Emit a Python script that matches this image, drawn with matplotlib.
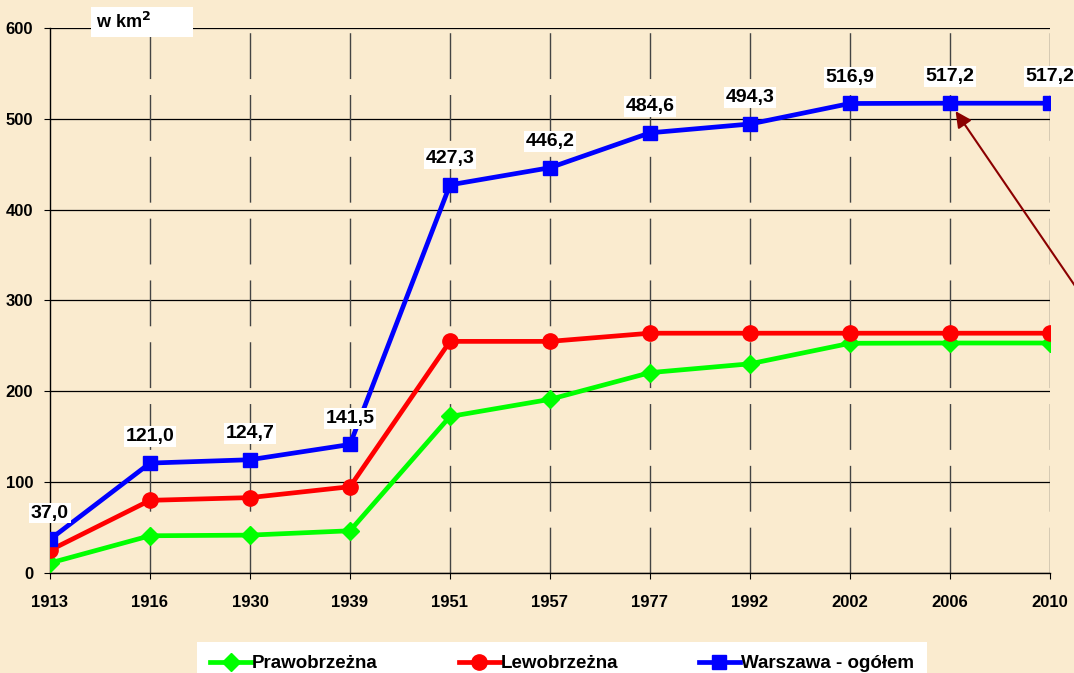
import matplotlib.pyplot as plt
import numpy as np

lata = ['1913', '1916', '1930', '1939', '1951', '1957', '1977', '1992', '2002', '2006', '2010']
prawobrzezna = [11.0, 41.0, 41.7, 46.5, 172.3, 191.2, 220.6, 230.3, 252.9, 253.2, 253.2]
lewobrzezna = [25.0, 80.0, 83.0, 95.0, 255.0, 255.0, 264.0, 264.0, 264.0, 264.0, 264.0]
warszawa = [37.0, 121.0, 124.7, 141.5, 427.3, 446.2, 484.6, 494.3, 516.9, 517.2, 517.2]
etykiety = ['37,0', '121,0', '124,7', '141,5', '427,3', '446,2', '484,6', '494,3', '516,9', '517,2', '517,2']

plt.rcParams['font.family'] = ['Liberation Sans', 'DejaVu Sans']
plt.rcParams['font.weight'] = 'bold'

tlo = '#faebcf'
fig = plt.figure(figsize=(10.74, 6.73), dpi=100, facecolor=tlo)
ax = fig.add_axes([50/1074, 1-573/673, 1000/1074, 545/673])
ax.set_facecolor(tlo)

x = np.arange(len(lata))
ax.plot(x, prawobrzezna, color='#00ff00', lw=3.4, marker='D', ms=9.5, label='Prawobrzeżna', zorder=3)
ax.plot(x, lewobrzezna, color='#ff0000', lw=3.4, marker='o', ms=11, label='Lewobrzeżna', zorder=3)
ax.plot(x, warszawa, color='#0000ff', lw=3.4, marker='s', ms=10, label='Warszawa - ogółem', zorder=4)

for i in range(len(x)):
    ax.annotate(etykiety[i], (x[i], warszawa[i]), xytext=(0, 19), textcoords='offset points',
                ha='center', va='center', fontsize=14, fontweight='bold', zorder=6,
                bbox=dict(boxstyle='square,pad=0.1', fc='white', ec='none'), annotation_clip=False)

ax.set_xlim(0, 10)
ax.set_ylim(0, 600)
ax.set_xticks(x)
ax.set_xticklabels(lata)
ax.set_yticks(range(0, 601, 100))
ax.tick_params(labelsize=12, length=4, color='black')
ax.tick_params(axis='x', pad=12)
ax.tick_params(axis='y', pad=8)
for lab in ax.get_xticklabels() + ax.get_yticklabels():
    lab.set_fontweight('bold')

ax.yaxis.grid(True, color='black', lw=0.9)
for xi in x[1:]:
    ax.axvline(xi, color='#444444', lw=1, ls=(0, (33, 11.5)), zorder=1)
ax.set_axisbelow(True)
ax.spines['top'].set_visible(False)
ax.spines['right'].set_visible(False)
ax.spines['left'].set_linewidth(1)
ax.spines['bottom'].set_linewidth(1)

# jednostka
fig.text(96/1074, 1-22/673, 'w km$^{\\mathbf{2}}$        ', fontsize=13, fontweight='bold', va='center', ha='left',
         bbox=dict(boxstyle='square,pad=0.3', fc='white', ec='none'))

# strzalka
ax.annotate('', xy=(9.04, 511), xytext=(10.35, 300), xycoords='data', textcoords='data',
            arrowprops=dict(arrowstyle='-|>', color='#8b0000', lw=1.5, mutation_scale=24),
            annotation_clip=False, zorder=7)

leg = fig.legend(loc='upper center', bbox_to_anchor=(562/1074, 1-642/673), ncol=3, frameon=True,
                 fancybox=False, edgecolor='none', facecolor='white', framealpha=1,
                 prop={'weight': 'bold', 'size': 13.5}, handlelength=2.2, handletextpad=0.05,
                 columnspacing=4.3, borderpad=0.7, borderaxespad=0)

fig.savefig('out.png', dpi=100, facecolor=tlo)
